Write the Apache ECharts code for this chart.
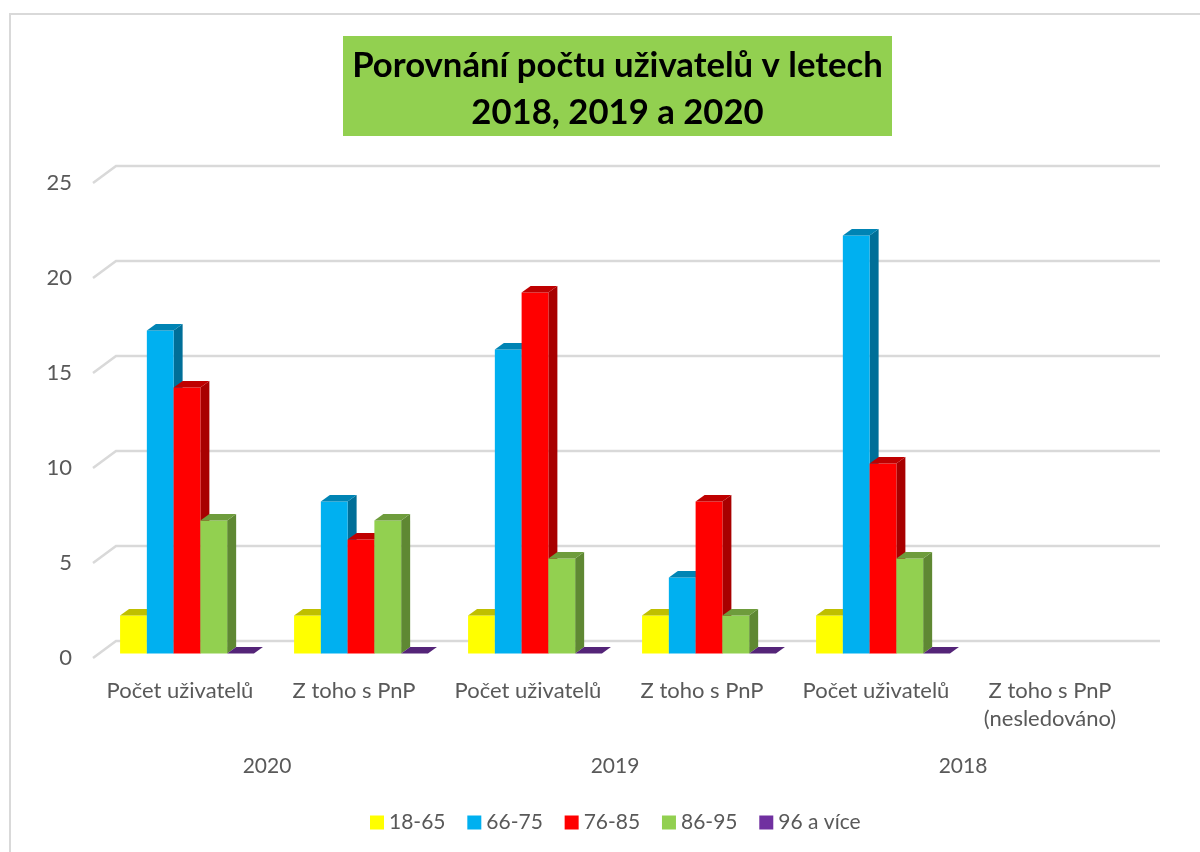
<!DOCTYPE html>
<html>
<head>
<meta charset="utf-8">
<script src="https://cdn.jsdelivr.net/npm/echarts@6/dist/echarts.min.js"></script>
<style>
  html, body { margin: 0; padding: 0; background: #fff; }
  #chart { width: 1200px; height: 852px; }
</style>
</head>
<body>
<div id="chart"></div>
<script>
const categories = ['Počet uživatelů', 'Z toho s PnP', 'Počet uživatelů', 'Z toho s PnP', 'Počet uživatelů', 'Z toho s PnP\n(nesledováno)']
const years = ['2020', '2019', '2018']
const yTicks = [0, 5, 10, 15, 20, 25]

const ageGroups = ['18-65', '66-75', '76-85', '86-95', '96 a více']
const age18to65 = [2, 2, 2, 2, 2, null]
const age66to75 = [17, 8, 16, 4, 22, null]
const age76to85 = [14, 6, 19, 8, 10, null]
const age86to95 = [7, 7, 5, 2, 5, null]
const age96plus = [0, 0, 0, 0, 0, null]
const seriesValues = [age18to65, age66to75, age76to85, age86to95, age96plus]

const frontColors = ['#ffff00', '#00b0f0', '#ff0000', '#92d050', '#7030a0']
const topColors = ['#bfbf00', '#0084b4', '#bf0000', '#6e9c3c', '#542478']
const sideColors = ['#a8a800', '#006f98', '#a80000', '#5f8833', '#4a2069']

const textColor = '#595959'
const fontName = 'Lato'

// fake 3D: bars sit a bit behind the front plane of the grid, walls at the back
const barLift = 4.5
const barShift = 7
const depthX = 9
const depthY = 6.5
const wallX = 23
const wallY = 17

function renderBar(groupIndex) {
    return function (params, api) {
        const value = api.value(1)
        if (value === null || isNaN(value)) return
        const catWidth = api.size([1, 0])[0]
        const w = catWidth / 6.5
        const center = api.coord([api.value(0), 0])[0]
        const x0 = center - 2.5 * w + groupIndex * w + barShift
        const x1 = x0 + w
        const yBase = api.coord([api.value(0), 0])[1] - barLift
        const yTop = api.coord([api.value(0), value])[1] - barLift
        const children = []
        if (value > 0) {
            children.push({
                type: 'polygon',
                shape: { points: [[x1, yTop], [x1 + depthX, yTop - depthY], [x1 + depthX, yBase - depthY], [x1, yBase]] },
                style: { fill: sideColors[groupIndex] }
            })
            children.push({
                type: 'rect',
                shape: { x: x0, y: yTop, width: w, height: yBase - yTop },
                style: { fill: frontColors[groupIndex] }
            })
        }
        children.push({
            type: 'polygon',
            shape: { points: [[x0, yTop], [x1, yTop], [x1 + depthX, yTop - depthY], [x0 + depthX, yTop - depthY]] },
            style: { fill: topColors[groupIndex] }
        })
        return { type: 'group', children: children }
    }
}

function renderWallLine(params, api) {
    const start = api.coord([0, api.value(0)])
    const left = start[0] - api.size([1, 0])[0] / 2
    const right = left + api.size([1, 0])[0] * categories.length
    const y = start[1]
    return {
        type: 'polyline',
        shape: { points: [[left, y], [left + wallX, y - wallY], [right + wallX, y - wallY]] },
        style: { fill: null, stroke: '#d9d9d9', lineWidth: 2.5 }
    }
}

const barSeries = ageGroups.map(function (name, i) {
    return {
        name: name,
        type: 'custom',
        renderItem: renderBar(i),
        clip: false,
        z: 3 + i,
        itemStyle: { color: frontColors[i] },
        encode: { x: 0, y: 1 },
        data: seriesValues[i].map(function (v, c) { return [c, v] })
    }
})

const chart = echarts.init(document.getElementById('chart'), null, { renderer: 'canvas' })
chart.setOption({
    animation: false,
    backgroundColor: '#ffffff',
    textStyle: { fontFamily: fontName },
    title: {
        text: 'Porovnání počtu uživatelů v letech\n2018, 2019 a 2020',
        left: 612.5,
        top: 37,
        textAlign: 'center',
        textStyle: { fontFamily: fontName, fontSize: 34.7, fontWeight: 'bold', color: '#000000', lineHeight: 47 }
    },
    graphic: [
        { type: 'rect', z: -1, shape: { x: 343, y: 36, width: 549, height: 100 }, style: { fill: '#92d050' } },
        { type: 'polyline', z: -1, shape: { points: [[10, 852], [10, 14], [1200, 14]] }, style: { fill: null, stroke: '#d9d9d9', lineWidth: 2 } }
    ],
    legend: {
        data: ageGroups,
        left: 365,
        top: 807,
        itemWidth: 14,
        itemHeight: 14,
        itemGap: 21.8,
        icon: 'rect',
        textStyle: { fontFamily: fontName, fontSize: 21, color: textColor }
    },
    grid: { left: 93, top: 183, width: 1044, height: 475, containLabel: false },
    xAxis: [
        {
            type: 'category',
            data: categories,
            axisLine: { show: false },
            axisTick: { show: false },
            axisLabel: { interval: 0, margin: 19, fontSize: 22, lineHeight: 28, color: textColor, fontFamily: fontName }
        },
        {
            type: 'category',
            position: 'bottom',
            offset: 98,
            data: years,
            axisLine: { show: false },
            axisTick: { show: false },
            axisLabel: { interval: 0, margin: 0, fontSize: 21, color: textColor, fontFamily: fontName }
        }
    ],
    yAxis: {
        type: 'value',
        min: 0,
        max: 25,
        interval: 5,
        splitLine: { show: false },
        axisLine: { show: false },
        axisTick: { show: false },
        axisLabel: { margin: 21, fontSize: 22, color: textColor, fontFamily: fontName, padding: [3, 0, 0, 0] }
    },
    series: [{
        type: 'custom',
        name: 'mřížka',
        renderItem: renderWallLine,
        clip: false,
        silent: true,
        z: 1,
        encode: { y: 0 },
        data: yTicks.map(function (t) { return [t] })
    }].concat(barSeries)
})
window.addEventListener('resize', function () { chart.resize() })
</script>
</body>
</html>
